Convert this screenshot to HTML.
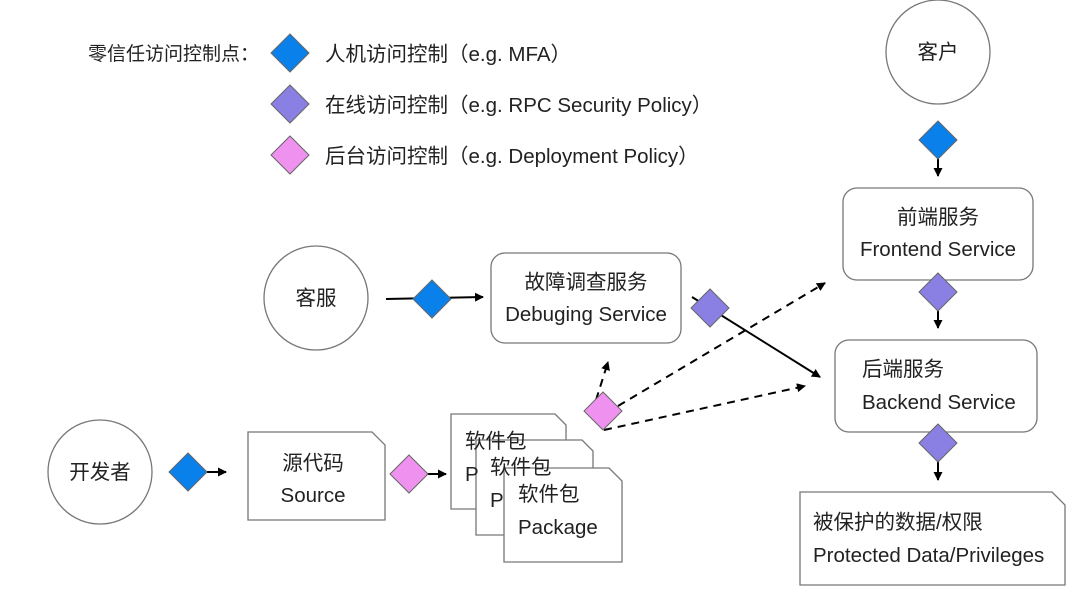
<!DOCTYPE html>
<html><head><meta charset="utf-8"><style>
body{margin:0;background:#fff}
svg{display:block}
text{font-family:"Liberation Sans","Noto Sans CJK SC",sans-serif;font-size:20.5px;fill:#222}
</style></head><body>
<svg width="1080" height="589" viewBox="0 0 1080 589" xmlns="http://www.w3.org/2000/svg">
<defs>
<marker id="a" markerWidth="9" markerHeight="9" refX="8" refY="4.5" orient="auto" markerUnits="userSpaceOnUse"><path d="M0,0L9,4.5L0,9z" fill="#000"/></marker>
<g id="db"><path d="M0,-19L19,0L0,19L-19,0z" stroke="#666" stroke-width="1"/></g>
</defs>
<text x="88" y="60" style="font-size:19px">零信任访问控制点：</text>
<use href="#db" x="290" y="53" fill="#0a80ea"/>
<use href="#db" x="290" y="104" fill="#8a7fe2"/>
<use href="#db" x="290" y="155" fill="#ef92ef"/>
<text x="325" y="61">人机访问控制（e.g. MFA）</text>
<text x="325" y="112">在线访问控制（e.g. RPC Security Policy）</text>
<text x="325" y="163">后台访问控制（e.g. Deployment Policy）</text>
<g fill="#fff" stroke="#777" stroke-width="1.3">
<circle cx="938" cy="52" r="52"/>
<circle cx="316" cy="298" r="52"/>
<circle cx="100" cy="472" r="52"/>
<rect x="843" y="188" width="190" height="92" rx="14"/>
<rect x="835" y="340" width="202" height="92" rx="14"/>
<rect x="491" y="253" width="190" height="90" rx="14"/>
<path d="M800,492H1052L1065,505V585H800z"/>
<path d="M248,432H372L385,445V520H248z"/>
<path d="M451,414H555L566,425V509H451z"/>
<path d="M476,440H582L593,451V535H476z"/>
<path d="M504,468H609L622,481V562H504z"/>
</g>
<text x="938" y="59" text-anchor="middle">客户</text>
<text x="316" y="305" text-anchor="middle">客服</text>
<text x="100" y="479" text-anchor="middle">开发者</text>
<text x="938" y="224" text-anchor="middle">前端服务</text>
<text x="938" y="256" text-anchor="middle">Frontend Service</text>
<text x="862" y="376">后端服务</text>
<text x="862" y="409">Backend Service</text>
<text x="586" y="289" text-anchor="middle">故障调查服务</text>
<text x="586" y="321" text-anchor="middle">Debuging Service</text>
<text x="813" y="529">被保护的数据/权限</text>
<text x="813" y="562">Protected Data/Privileges</text>
<text x="313" y="470" text-anchor="middle">源代码</text>
<text x="313" y="502" text-anchor="middle">Source</text>
<text x="465" y="448">软件包</text>
<text x="465" y="481">P</text>
<text x="490" y="474">软件包</text>
<text x="490" y="507">P</text>
<text x="518" y="501">软件包</text>
<text x="518" y="534">Package</text>
<g stroke="#000" stroke-width="2" fill="none">
<line x1="938" y1="158" x2="938" y2="176" marker-end="url(#a)"/>
<line x1="938" y1="310" x2="938" y2="328" marker-end="url(#a)"/>
<line x1="938" y1="461" x2="938" y2="480" marker-end="url(#a)"/>
<line x1="386" y1="299" x2="483" y2="297" marker-end="url(#a)"/>
<line x1="692" y1="297" x2="820" y2="377" marker-end="url(#a)"/>
<line x1="206" y1="472" x2="226" y2="472" marker-end="url(#a)"/>
<line x1="427" y1="474" x2="446" y2="474" marker-end="url(#a)"/>
<g stroke-dasharray="8,6">
<line x1="596" y1="400" x2="608" y2="362" marker-end="url(#a)"/>
<line x1="618" y1="406" x2="825" y2="283" marker-end="url(#a)"/>
<line x1="604" y1="430" x2="805" y2="386" marker-end="url(#a)"/>
</g>
</g>
<use href="#db" x="938" y="140" fill="#0a80ea"/>
<use href="#db" x="938" y="292" fill="#8a7fe2"/>
<use href="#db" x="938" y="443" fill="#8a7fe2"/>
<use href="#db" x="432" y="299" fill="#0a80ea"/>
<use href="#db" x="710" y="308" fill="#8a7fe2"/>
<use href="#db" x="188" y="472" fill="#0a80ea"/>
<use href="#db" x="409" y="474" fill="#ef92ef"/>
<use href="#db" x="603" y="411" fill="#ef92ef"/>
</svg>
</body></html>
